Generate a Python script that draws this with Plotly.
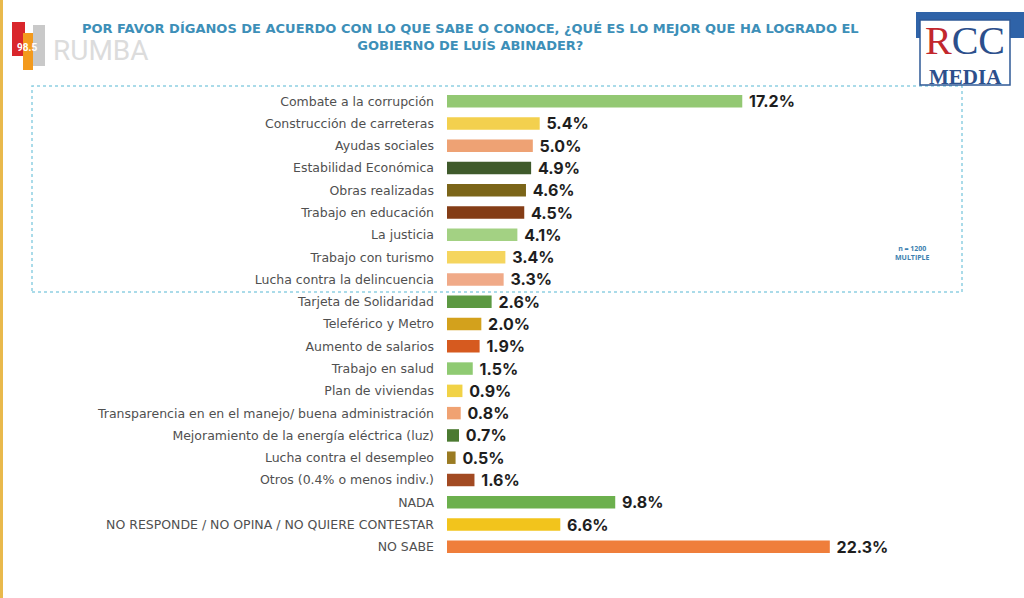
import plotly.graph_objects as go

# Datos de la encuesta (orden de arriba hacia abajo)
categorias = [
    "Combate a la corrupción",
    "Construcción de carreteras",
    "Ayudas sociales",
    "Estabilidad Económica",
    "Obras realizadas",
    "Trabajo en educación",
    "La justicia",
    "Trabajo con turismo",
    "Lucha contra la delincuencia",
    "Tarjeta de Solidaridad",
    "Teleférico y Metro",
    "Aumento de salarios",
    "Trabajo en salud",
    "Plan de viviendas",
    "Transparencia en en el manejo/ buena administración",
    "Mejoramiento de la energía eléctrica (luz)",
    "Lucha contra el desempleo",
    "Otros (0.4% o menos indiv.)",
    "NADA",
    "NO RESPONDE / NO OPINA / NO QUIERE CONTESTAR",
    "NO SABE",
]
porcentajes = [17.2, 5.4, 5.0, 4.9, 4.6, 4.5, 4.1, 3.4, 3.3,
               2.6, 2.0, 1.9, 1.5, 0.9, 0.8, 0.7, 0.5, 1.6,
               9.8, 6.6, 22.3]
colores = ["#93c873", "#f3d04e", "#eea274", "#3f5a2b", "#7b6519", "#843d16",
           "#a3d183", "#f5d55e", "#f0aa88", "#5c9942", "#d3a11c", "#d65a1f",
           "#8fca72", "#f1d246", "#f0a272", "#4b7a31", "#9a7b22", "#a24a22",
           "#6cb04d", "#f2c41c", "#ef7e3b"]

titulo = ("POR FAVOR DÍGANOS DE ACUERDO CON LO QUE SABE O CONOCE, ¿QUÉ ES LO MEJOR QUE HA LOGRADO EL"
          "<br>GOBIERNO DE LUÍS ABINADER?")

# area del grafico en pixeles (para ubicar anotaciones)
L, R, T, B = 447, 962, 90, 558


def px_x(x):
    return (x - L) / (R - L)


def px_y(y):
    return (B - y) / (B - T)


fig = go.Figure(go.Bar(
    x=porcentajes,
    y=categorias,
    orientation="h",
    marker=dict(color=colores, line=dict(width=0)),
    width=0.56,
    text=[f" {v:.1f}%" for v in porcentajes],
    textposition="outside",
    constraintext="none",
    textfont=dict(family="Inter", size=16, color="#1e1e1e", weight="bold"),
    cliponaxis=False,
))

fig.update_layout(
    width=1024, height=598,
    margin=dict(l=L, r=1024 - R, t=T, b=598 - B),
    paper_bgcolor="white", plot_bgcolor="white",
    showlegend=False,
    xaxis=dict(range=[0, 30], visible=False),
    yaxis=dict(autorange="reversed", showgrid=False, ticks="", ticklabelstandoff=12,
               automargin=False,
               tickfont=dict(family="DejaVu Sans", size=12.5, color="#505050")),
)

# Recuadro punteado de los primeros 9
fig.add_shape(type="rect", xref="paper", yref="paper",
              x0=px_x(32), x1=px_x(962), y0=px_y(292), y1=px_y(86),
              line=dict(color="#8fd0e2", width=1.5, dash="dot"))

# Titulo
fig.add_annotation(text=titulo, xref="paper", yref="paper", x=px_x(470), y=px_y(37),
                   xanchor="center", yanchor="middle", showarrow=False, align="center",
                   font=dict(family="DejaVu Sans", size=13, color="#3d8fb8", weight="bold"))

fig.add_annotation(text="n = 1200<br>MULTIPLE", xref="paper", yref="paper",
                   x=px_x(912), y=px_y(253), xanchor="center", yanchor="middle",
                   showarrow=False, align="center",
                   font=dict(family="Open Sans", size=7, color="#3d7fb0", weight="bold"))

# Logo de la radio (izquierda)
fig.add_shape(type="rect", xref="paper", yref="paper", x0=px_x(0), x1=px_x(3),
              y0=px_y(598), y1=px_y(0), fillcolor="#e9b94c", line=dict(width=0))
for x0, x1, y0, y1, c in [(12, 25, 22, 56, "#d9262b"), (33, 45, 25, 66, "#c9c9c9"), (23, 33, 33, 70, "#f39a1d")]:
    fig.add_shape(type="rect", xref="paper", yref="paper",
                  x0=px_x(x0), x1=px_x(x1), y0=px_y(y1), y1=px_y(y0),
                  fillcolor=c, line=dict(width=0))
fig.add_annotation(text="98.5", xref="paper", yref="paper", x=px_x(27), y=px_y(47),
                   xanchor="center", yanchor="middle", showarrow=False,
                   font=dict(family="Roboto", size=10, color="white", weight="bold"))
fig.add_annotation(text="RUMBA", xref="paper", yref="paper", x=px_x(101), y=px_y(50),
                   xanchor="center", yanchor="middle", showarrow=False,
                   font=dict(family="Roboto", size=28, color="#dcdcdc"))

# Logo RCC MEDIA (derecha)
fig.add_shape(type="rect", xref="paper", yref="paper",
              x0=px_x(916), x1=px_x(1024), y0=px_y(38), y1=px_y(12),
              fillcolor="#2f63a8", line=dict(width=0))
fig.add_shape(type="rect", xref="paper", yref="paper",
              x0=px_x(920), x1=px_x(1010), y0=px_y(85), y1=px_y(20),
              fillcolor="white", line=dict(color="#2f5a96", width=1.5))
fig.add_annotation(text="<span style='color:#c2272d'>R</span>CC", xref="paper", yref="paper",
                   x=px_x(965), y=px_y(64), xanchor="center", yanchor="bottom", showarrow=False,
                   borderpad=0, font=dict(family="Liberation Serif", size=40, color="#2c4f8c"))
fig.add_annotation(text="MEDIA", xref="paper", yref="paper",
                   x=px_x(965), y=px_y(64), xanchor="center", yanchor="top", showarrow=False,
                   borderpad=0, font=dict(family="Liberation Serif", size=21, color="#2c4f8c", weight="bold"))

# quitar el margen del body para que coincida pixel a pixel
fig.write_html("out.html", config={"displayModeBar": False},
               post_script="document.body.style.margin='0';")
